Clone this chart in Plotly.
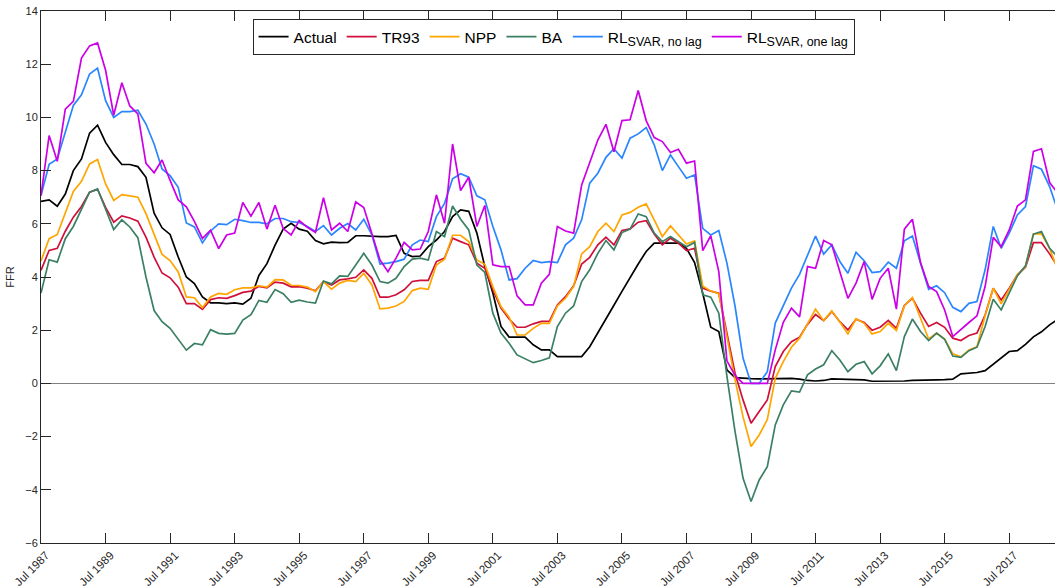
import pandas as pd
import plotly.graph_objects as go

# Quarterly observations, 1987Q3 - 2019Q1
quarters = pd.date_range("1987-07-01", periods=127, freq="QS")

actual = [
    6.84, 6.90, 6.66, 7.12, 8.00, 8.44, 9.41, 9.71, 9.06, 8.60,
    8.23, 8.23, 8.15, 7.75, 6.40, 5.85, 5.60, 4.75, 4.00, 3.75,
    3.25, 3.03, 3.03, 3.00, 3.03, 2.98, 3.20, 4.06, 4.50, 5.20,
    5.80, 6.02, 5.80, 5.72, 5.37, 5.25, 5.31, 5.29, 5.30, 5.55,
    5.55, 5.53, 5.52, 5.52, 5.56, 4.89, 4.77, 4.79, 5.14, 5.39,
    5.71, 6.27, 6.52, 6.47, 5.65, 4.39, 3.40, 2.14, 1.74, 1.74,
    1.74, 1.45, 1.26, 1.26, 1.01, 1.01, 1.01, 1.01, 1.38, 1.89,
    2.41, 2.94, 3.46, 3.99, 4.49, 4.96, 5.27, 5.27, 5.27, 5.27,
    5.08, 4.54, 3.39, 2.11, 1.95, 0.51, 0.22, 0.19, 0.18, 0.17,
    0.17, 0.19, 0.19, 0.19, 0.16, 0.11, 0.09, 0.11, 0.17, 0.16,
    0.17, 0.16, 0.13, 0.08, 0.08, 0.08, 0.08, 0.09, 0.11, 0.11,
    0.12, 0.13, 0.14, 0.16, 0.36, 0.38, 0.41, 0.48, 0.73, 0.98,
    1.20, 1.23, 1.47, 1.75, 1.94, 2.20, 2.40,
]

tr93 = [
    4.25, 5.00, 5.08, 5.72, 6.25, 6.65, 7.19, 7.29, 6.62, 6.06,
    6.30, 6.22, 6.10, 5.50, 4.75, 4.15, 3.97, 3.62, 3.00, 3.00,
    2.78, 3.15, 3.22, 3.20, 3.30, 3.42, 3.47, 3.65, 3.59, 3.81,
    3.77, 3.63, 3.64, 3.58, 3.48, 3.83, 3.70, 3.89, 3.93, 3.99,
    4.27, 3.95, 3.24, 3.24, 3.33, 3.52, 3.83, 3.87, 3.87, 4.58,
    4.71, 5.46, 5.33, 5.21, 4.52, 4.33, 3.52, 2.83, 2.42, 2.11,
    2.11, 2.24, 2.33, 2.33, 2.95, 3.26, 3.67, 4.49, 4.74, 5.21,
    5.50, 5.21, 5.75, 5.81, 6.06, 6.12, 5.62, 5.21, 5.46, 5.27,
    4.99, 5.08, 3.58, 3.47, 3.39, 1.89, 0.38, -0.62, -1.50, -1.06,
    -0.62, 0.63, 1.20, 1.57, 1.74, 2.22, 2.59, 2.36, 2.70, 2.32,
    2.01, 2.41, 2.29, 2.00, 2.11, 2.37, 2.07, 2.93, 3.20, 2.64,
    2.14, 2.29, 2.11, 1.70, 1.61, 1.80, 1.89, 2.57, 3.58, 3.14,
    3.58, 4.08, 4.37, 5.29, 5.29, 4.87, 4.38,
]

npp = [
    4.60, 5.44, 5.60, 6.38, 7.22, 7.60, 8.25, 8.42, 7.50, 6.88,
    7.10, 7.05, 7.00, 6.38, 5.62, 4.85, 4.62, 4.19, 3.25, 3.22,
    2.85, 3.25, 3.38, 3.35, 3.52, 3.59, 3.59, 3.67, 3.62, 3.90,
    3.89, 3.69, 3.68, 3.62, 3.45, 3.83, 3.54, 3.77, 3.87, 3.83,
    4.14, 3.70, 2.80, 2.83, 2.91, 3.08, 3.49, 3.58, 3.54, 4.45,
    4.67, 5.57, 5.57, 5.33, 4.64, 4.48, 3.64, 2.89, 2.49, 1.82,
    1.82, 2.07, 2.26, 2.26, 2.91, 3.20, 3.64, 4.87, 5.14, 5.71,
    6.02, 5.71, 6.33, 6.43, 6.62, 6.75, 6.15, 5.52, 5.92, 5.58,
    5.24, 5.36, 3.66, 3.47, 3.37, 1.76, 0.13, -1.25, -2.37, -1.94,
    -1.36, 0.19, 0.82, 1.36, 1.70, 2.24, 2.79, 2.36, 2.73, 2.31,
    1.86, 2.43, 2.26, 1.86, 1.95, 2.26, 1.99, 2.91, 3.23, 2.45,
    1.67, 1.89, 1.67, 1.11, 1.00, 1.26, 1.38, 2.54, 3.58, 2.99,
    3.52, 4.08, 4.39, 5.62, 5.62, 5.08, 4.26,
]

ba = [
    3.40, 4.65, 4.56, 5.44, 5.90, 6.52, 7.19, 7.31, 6.52, 5.78,
    6.15, 5.88, 5.48, 4.00, 2.74, 2.32, 2.07, 1.64, 1.25, 1.50,
    1.45, 2.02, 1.88, 1.85, 1.88, 2.38, 2.58, 3.12, 3.05, 3.53,
    3.37, 3.05, 3.13, 3.06, 3.02, 3.85, 3.74, 4.04, 4.02, 4.45,
    4.89, 4.45, 3.83, 3.77, 3.95, 4.39, 4.67, 4.71, 4.64, 5.71,
    5.52, 6.67, 6.17, 5.77, 4.45, 4.17, 2.64, 1.89, 1.51, 1.07,
    0.91, 0.78, 0.86, 0.96, 2.14, 2.64, 2.91, 3.83, 4.27, 4.89,
    5.37, 5.02, 5.67, 5.80, 6.37, 6.27, 5.65, 5.33, 5.52, 5.33,
    5.14, 5.30, 3.33, 3.24, 2.64, 0.26, -1.81, -3.56, -4.44, -3.63,
    -3.13, -1.56, -0.81, -0.28, -0.33, 0.32, 0.54, 0.70, 1.23, 0.88,
    0.44, 0.72, 0.82, 0.36, 0.66, 1.11, 0.48, 1.76, 2.42, 1.95,
    1.61, 1.89, 1.66, 1.03, 0.98, 1.23, 1.36, 2.14, 3.16, 2.76,
    3.41, 4.04, 4.42, 5.61, 5.71, 5.08, 4.75,
]

rl_svar_no_lag = [
    7.06, 8.24, 8.44, 9.40, 10.45, 10.85, 11.63, 11.85, 10.63, 10.00,
    10.22, 10.22, 10.27, 9.75, 9.00, 8.06, 7.81, 7.37, 6.03, 5.88,
    5.28, 5.73, 6.00, 5.97, 6.17, 6.12, 6.05, 6.05, 6.00, 6.20,
    6.20, 6.08, 6.05, 5.90, 5.71, 5.93, 5.58, 5.83, 6.01, 5.77,
    6.17, 5.58, 4.49, 4.52, 4.58, 4.67, 5.21, 5.39, 5.33, 6.27,
    6.77, 7.69, 7.88, 7.75, 7.05, 6.90, 5.90, 5.02, 3.89, 3.94,
    4.33, 4.62, 4.54, 4.58, 4.54, 5.21, 5.46, 6.15, 7.53, 7.90,
    8.50, 8.82, 8.47, 9.22, 9.38, 9.62, 8.97, 8.00, 8.59, 8.15,
    7.71, 7.84, 5.83, 5.58, 5.75, 4.52, 2.90, 0.95, 0.00, 0.00,
    0.44, 2.27, 2.92, 3.58, 4.10, 4.85, 5.54, 4.86, 5.21, 4.58,
    4.14, 4.93, 4.61, 4.17, 4.20, 4.56, 4.33, 5.36, 5.54, 4.52,
    3.54, 3.67, 3.41, 2.86, 2.70, 3.01, 3.08, 4.27, 5.90, 5.08,
    5.65, 6.33, 6.65, 8.18, 8.05, 7.40, 6.50,
]

rl_svar_one_lag = [
    7.06, 9.32, 8.35, 10.31, 10.60, 12.23, 12.69, 12.80, 11.77, 10.08,
    11.30, 10.43, 10.13, 8.27, 7.92, 8.40, 7.63, 6.90, 6.64, 6.09,
    5.45, 5.76, 5.07, 5.58, 5.65, 6.80, 6.29, 6.80, 5.80, 6.70,
    5.82, 5.58, 6.12, 5.87, 5.68, 6.98, 5.77, 6.02, 5.71, 6.82,
    6.61, 5.65, 4.64, 4.20, 4.71, 5.30, 5.02, 5.05, 5.71, 7.09,
    6.02, 9.00, 7.25, 7.75, 5.90, 6.69, 4.46, 4.39, 4.39, 3.29,
    2.95, 2.95, 3.77, 4.10, 5.90, 5.73, 5.65, 7.46, 8.29, 9.15,
    9.74, 8.71, 9.88, 9.91, 11.01, 9.88, 9.24, 9.09, 8.68, 8.80,
    8.28, 8.36, 4.99, 5.55, 4.20, 0.85, 0.30, 0.00, 0.00, 0.00,
    0.00, 1.26, 2.30, 2.83, 2.50, 4.39, 4.33, 5.37, 5.21, 4.20,
    3.20, 3.77, 4.58, 3.16, 3.95, 4.33, 2.79, 5.80, 6.17, 4.54,
    3.64, 3.45, 2.76, 1.76, 2.04, 2.29, 2.54, 3.64, 5.49, 5.14,
    5.77, 6.67, 6.90, 8.72, 8.82, 7.55, 7.15,
]

SUB = '<sub><span style="font-size:12.5px">{}</span></sub>'

series = [
    ("Actual", actual, "#000000"),
    ("TR93", tr93, "#D0103A"),
    ("NPP", npp, "#FFA500"),
    ("BA", ba, "#3B8063"),
    ("RL" + SUB.format("SVAR, no lag"), rl_svar_no_lag, "#2A86FF"),
    ("RL" + SUB.format("SVAR, one lag"), rl_svar_one_lag, "#CC00E6"),
]

FONT = "Liberation Sans, Arial, Helvetica, sans-serif"
AXIS = "#262626"

fig = go.Figure()
for name, values, color in series:
    fig.add_trace(go.Scatter(
        x=quarters, y=values, name=name, mode="lines",
        line=dict(color=color, width=1.7),
    ))

fig.update_layout(
    width=1055, height=587,
    margin=dict(l=41, r=0, t=11, b=44),
    paper_bgcolor="white", plot_bgcolor="white",
    font=dict(family=FONT, size=11, color=AXIS),
    showlegend=True,
    legend=dict(
        orientation="h",
        x=0.5055, xanchor="center",
        y=0.985, yanchor="top",
        bgcolor="white",
        bordercolor=AXIS, borderwidth=1,
        font=dict(family=FONT, size=15.5, color="black"),
        itemwidth=30,
        tracegroupgap=0,
    ),
    xaxis=dict(
        type="date",
        range=["1987-07-01", "2018-12-01"],
        tick0="1987-07-01", dtick="M24", tickformat="%b %Y",
        tickangle=-45,
        ticklabelshift=5,
        ticks="inside", ticklen=10, tickwidth=1, tickcolor=AXIS,
        showline=True, linecolor=AXIS, linewidth=1, mirror="ticks",
        showgrid=False, zeroline=False,
        tickfont=dict(family=FONT, size=11.5, color=AXIS),
    ),
    yaxis=dict(
        range=[-6, 14], tick0=0, dtick=2,
        ticks="inside", ticklen=10, tickwidth=1, tickcolor=AXIS,
        showline=True, linecolor=AXIS, linewidth=1, mirror=False,
        showgrid=False,
        zeroline=True, zerolinecolor="#808080", zerolinewidth=1,
        tickfont=dict(family=FONT, size=11, color=AXIS),
        title=dict(text="FFR", font=dict(family=FONT, size=11, color=AXIS), standoff=8),
    ),
)

fig.write_html("out.html")
